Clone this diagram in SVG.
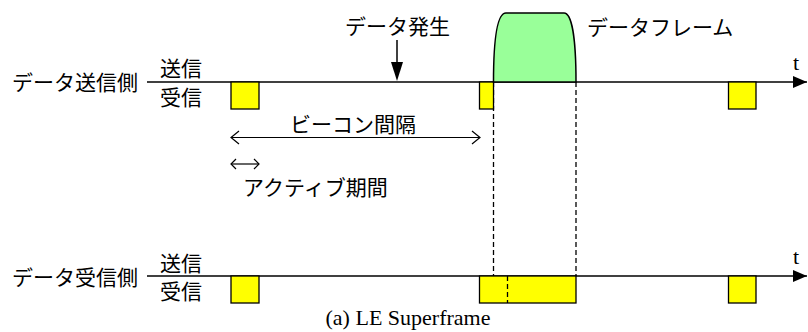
<svg xmlns="http://www.w3.org/2000/svg" width="808" height="332" viewBox="0 0 808 332">
<style>
.jp{font-family:"Noto Sans CJK JP","Noto Sans",sans-serif;font-size:21px;fill:#000}
.tm{font-family:"Liberation Serif",serif;font-size:22px;fill:#000}
.ln{stroke:#000;stroke-width:1.5;fill:none}
.dash{stroke:#000;stroke-width:1.3;stroke-dasharray:5,3;fill:none}
.slot{fill:#ffff00;stroke:#000;stroke-width:1.3}
.frame{fill:#99ff99;stroke:#000;stroke-width:1.5}
.thin{stroke:#000;stroke-width:1.2;fill:none}
</style>
<defs>
<marker id="tip" viewBox="0 0 14 12" refX="14" refY="6" markerWidth="14" markerHeight="12" markerUnits="userSpaceOnUse" orient="auto">
<path d="M0,0 L14,6 L0,12 Z" fill="#000"/>
</marker>
</defs>
<g id="connectors">
<line class="ln" x1="147" y1="82" x2="807" y2="82" marker-end="url(#tip)"/>
<line class="ln" x1="147" y1="276" x2="807" y2="276" marker-end="url(#tip)"/>
<line class="dash" x1="493.5" y1="82" x2="493.5" y2="276"/>
<line class="dash" x1="576" y1="82" x2="576" y2="276"/>
<line class="ln" x1="397" y1="40" x2="397" y2="64"/>
<path d="M391,62 L403,62 L397,81 Z" fill="#000"/>
<line class="thin" x1="231" y1="137.5" x2="480" y2="137.5"/>
<path class="thin" d="M239,131 L231,137.5 L239,144 M472,131 L480,137.5 L472,144"/>
<line class="thin" x1="231" y1="164" x2="259" y2="164"/>
<path class="thin" d="M236,159 L231,164 L236,169 M254,159 L259,164 L254,169"/>
</g>
<g id="sender">
<text class="jp" x="12" y="90">データ送信側</text>
<text class="jp" x="160" y="75.5">送信</text>
<text class="jp" x="160" y="104.5">受信</text>
<text class="tm" x="793" y="70">t</text>
</g>
<g id="receiver">
<text class="jp" x="12" y="285">データ受信側</text>
<text class="jp" x="160" y="270.5">送信</text>
<text class="jp" x="160" y="299">受信</text>
<text class="tm" x="793" y="263.5">t</text>
</g>
<g id="tx-slots">
<rect class="slot" x="231" y="82" width="28" height="27"/>
<rect class="slot" x="479.5" y="82" width="14" height="27"/>
<rect class="slot" x="728.5" y="82" width="27.5" height="27"/>
</g>
<g id="data-frame">
<path class="frame" d="M493.5,82 C493.5,40 497,13 506,13 L564,13 C572,13 576,40 576,82 Z"/>
<text class="jp" x="587" y="34.5">データフレーム</text>
</g>
<g id="data-event">
<text class="jp" x="345" y="34">データ発生</text>
</g>
<g id="rx-slots">
<rect class="slot" x="231" y="276" width="28" height="27"/>
<rect class="slot" x="479.5" y="276" width="96.5" height="27"/>
<line class="dash" x1="507.5" y1="276" x2="507.5" y2="303"/>
<rect class="slot" x="728.5" y="276" width="27.5" height="27"/>
</g>
<g id="beacon-interval">
<text class="jp" x="290" y="131.5">ビーコン間隔</text>
</g>
<g id="active-period">
<text class="jp" x="243" y="195">アクティブ期間</text>
</g>
<g id="caption">
<text class="tm" x="408" y="325" text-anchor="middle">(a) LE Superframe</text>
</g>
</svg>
